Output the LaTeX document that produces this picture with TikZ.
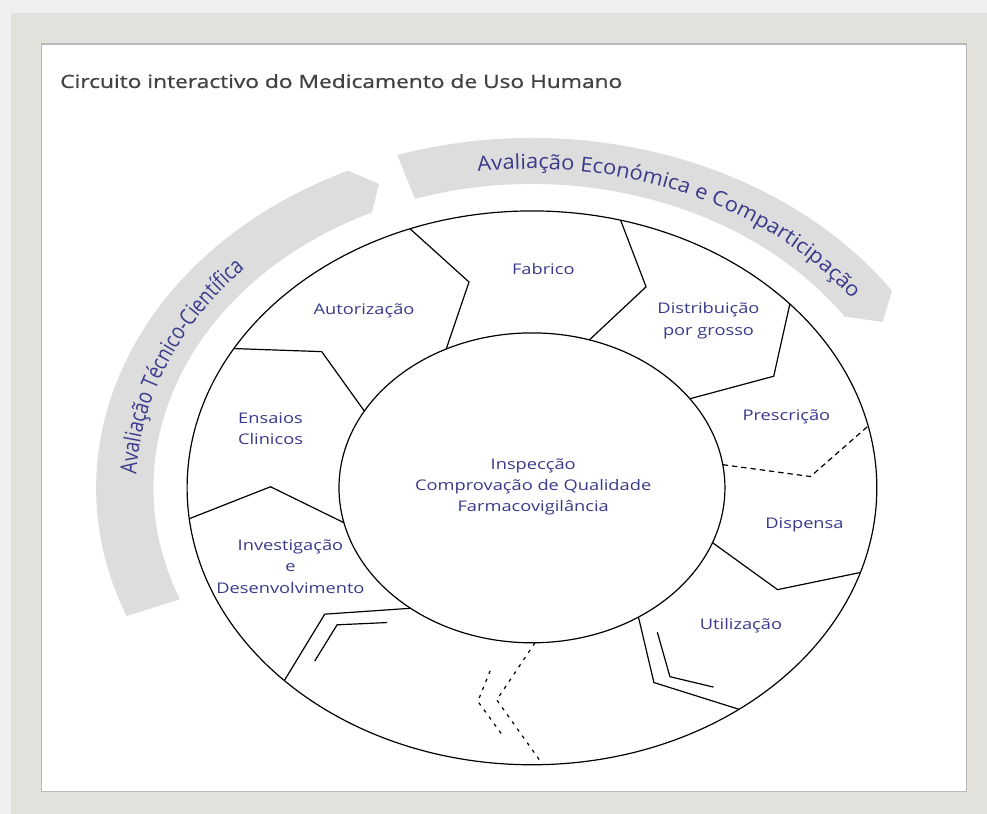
\documentclass[tikz,border=0pt]{standalone}
\usepackage{fontspec}
\setmainfont{Open Sans}
\newfontfamily\flatfont[FakeStretch=1.245]{Open Sans}
\newfontfamily\bandfont[FakeStretch=1.15]{Open Sans}
\newfontfamily\headfont[FakeStretch=1.245,FakeBold=1]{Open Sans}
\usetikzlibrary{decorations.text}

\definecolor{ink}{RGB}{58,58,140}
\definecolor{headgray}{RGB}{66,66,66}
\definecolor{bandgray}{RGB}{221,221,221}
\definecolor{mat}{RGB}{227,225,219}
\definecolor{haze}{RGB}{240,240,240}

\tikzset{
  ring/.style={line width=0.9pt},
  stage/.style={text=ink,font=\flatfont\fontsize{11}{16}\selectfont,align=center},
  band/.style={fill=bandgray},
  softcut/.style={ring,dash pattern=on 4pt off 3pt},
  dotcut/.style={ring,dash pattern=on 2.5pt off 4pt},
}

\begin{document}
\begin{tikzpicture}[x=0.934pt,y=0.75pt]
  \useasboundingbox (-427.3,-326) rectangle (365.5,488);
  \fill[haze] (-427.3,-326) rectangle (365.5,488);
  \fill[mat] (-418.5,-326) rectangle (365.5,475);
  \filldraw[fill=white,draw=gray!55,line width=0.8pt] (-393.6,-304) rectangle (349.4,444);

  \node[anchor=base west,inner sep=0pt,text=headgray,font=\headfont\fontsize{13.7}{16}\selectfont] (title) at (-379.1,400) {Circuito interactivo do Medicamento de Uso Humano};

  \fill[band] (201.5:304) arc[start angle=201.5,end angle=115,radius=304] -- (112:328) -- (115:350) arc[start angle=115,end angle=201.5,radius=350] -- cycle;
  \fill[band] (108:350) arc[start angle=108,end angle=34.3,radius=350] -- (30.5:327) -- (34.3:304) arc[start angle=34.3,end angle=108,radius=304] -- cycle;

  \path[decorate,decoration={text along path,text color=ink,text align=center,transform={yscale=1.22},
      text={|\fontsize{14}{17}\selectfont|Avaliação Técnico-Científica}}]
    (198.4:318) arc[start angle=198.4,end angle=118.4,radius=318];
  \path[decorate,decoration={text along path,text color=ink,text align=center,transform={yscale=1.08},
      text={|\bandfont\fontsize{14.3}{17}\selectfont|Avaliação Económica e Comparticipação}}]
    (106.4:319) arc[start angle=106.4,end angle=26.4,radius=319];

  \coordinate (hub) at (0,0);
  \draw[ring] (hub) circle (277);
  \draw[ring] (hub) circle (155);

  \draw[ring] (116.4:155) -- (103.8:212) -- (110.7:277);
  \draw[ring] (150.3:155) -- (141.1:217) -- (149.8:277);
  \draw[ring] (193.0:155) -- (179.7:210) -- (186.4:277);
  \draw[ring] (231.0:155) -- (217.2:209) -- (224.1:277);
  \draw[ring] (229.2:178) -- (221.2:208) -- (224.8:246);
  \draw[dotcut] (270.9:155) -- (262.4:214) -- (271.8:277);
  \draw[dotcut] (259.6:186) -- (258.5:218) -- (264.6:249);
  \draw[ring] (303.5:155) -- (296.7:218) -- (306.9:277);
  \draw[ring] (304.9:176) -- (300.4:219) -- (306.2:247);
  \draw[ring] (339.3:155) -- (332.7:222) -- (342.2:277);
  \draw[softcut] (8.6:155) -- (2.9:224) -- (12.9:277);
  \draw[ring] (35.1:155) -- (29.9:224) -- (41.6:277);
  \draw[ring] (72.7:155) -- (65.5:221) -- (75.1:277);

  \node[stage] (aut) at (-134.9,177) {Autorização};
  \node[stage] (fab) at (9.1,218.7) {Fabrico};
  \node[stage] (dist) at (141.8,167.2) {Distribuição\\por grosso};
  \node[stage] (presc) at (204.4,71.3) {Prescrição};
  \node[stage] (disp) at (218.9,-36.7) {Dispensa};
  \node[stage] (util) at (167.9,-138) {Utilização};
  \node[stage] (invest) at (-194,-78.7) {Investigação\\e\\Desenvolvimento};
  \node[stage] (ensaios) at (-210,59) {Ensaios\\Clinicos};
  \node[stage] (hubtext) at (1,1) {Inspecção\\Comprovação de Qualidade\\Farmacovigilância};
\end{tikzpicture}
\end{document}
